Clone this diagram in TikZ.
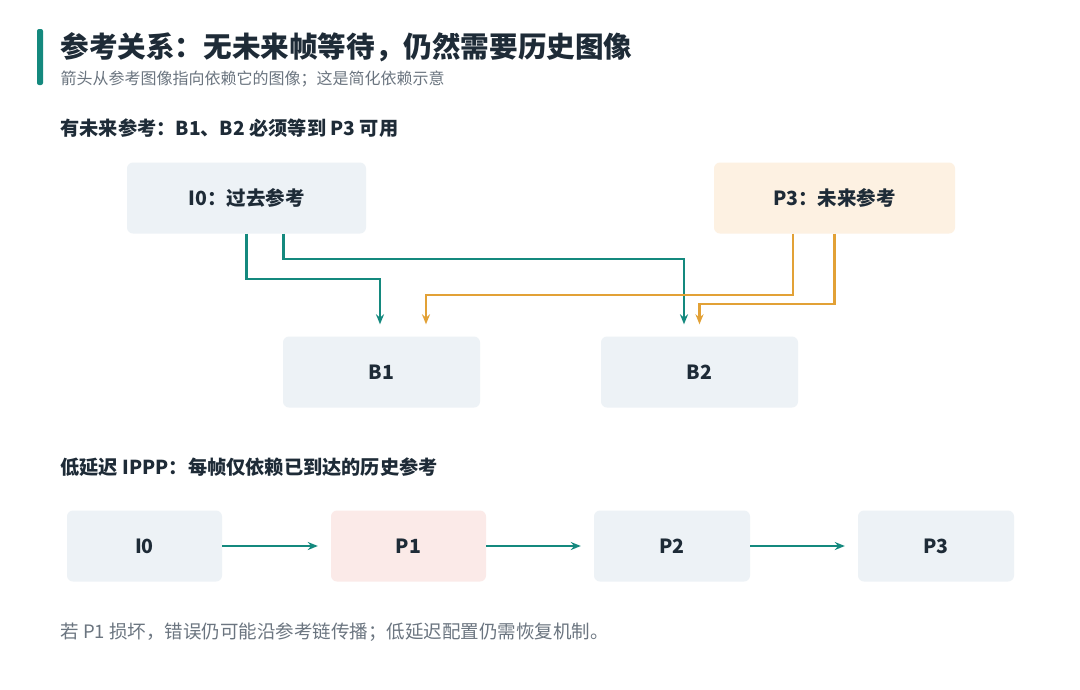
\documentclass[tikz,border=0pt]{standalone}
\usepackage{fontspec}
\setmainfont{Noto Sans CJK SC}
\usetikzlibrary{positioning, arrows.meta}
\definecolor{tealc}{HTML}{14897E}
\definecolor{orangec}{HTML}{E2A136}
\definecolor{ink}{HTML}{1E2B37}
\definecolor{greyc}{HTML}{6B7580}
\definecolor{boxc}{HTML}{EDF2F6}
\definecolor{futc}{HTML}{FDF1E2}
\definecolor{badc}{HTML}{FBEAE8}
\tikzset{
  frame/.style={rounded corners=6pt, minimum height=71pt, inner sep=0pt, text=ink, font=\fontsize{19.5}{23}\selectfont\bfseries},
  pastlink/.style={tealc, line width=2.4pt, -{Stealth[length=10pt,width=8pt]}, shorten >=12pt},
  futlink/.style={orangec, line width=2.4pt, -{Stealth[length=10pt,width=8pt]}, shorten >=12pt},
  chain/.style={tealc, line width=2.4pt, -{Stealth[length=10pt,width=8pt]}, shorten >=13pt}
}
\begin{document}
\begin{tikzpicture}[x=1pt, y=-1pt]
    \useasboundingbox[fill=white] (0,0) rectangle (1080,689);
    % Header
    \fill[tealc, rounded corners=2pt] (37,29) rectangle (43,85);
    \node[anchor=west, text=ink, font=\fontsize{28.6}{34}\selectfont\bfseries] (title) at (57,47) {参考关系：无未来帧等待，仍然需要历史图像};
    \node[anchor=west, text=greyc, font=\fontsize{16}{19}\selectfont] (sub) at (57,79) {箭头从参考图像指向依赖它的图像；这是简化依赖示意};
    % Future references
    \node[anchor=west, text=ink, font=\fontsize{19.2}{23}\selectfont\bfseries] (head1) at (57,128) {有未来参考：B1、B2 必须等到 P3 可用};
    \node[frame, fill=boxc, minimum width=239pt] (i0) at (246.5,198) {I0：过去参考};
    \node[frame, fill=futc, minimum width=241pt] (p3f) at (834.5,198) {P3：未来参考};
    \node[frame, fill=boxc, minimum width=197pt] (b1) at (381.5,372) {B1};
    \node[frame, fill=boxc, minimum width=197pt] (b2) at (699.5,372) {B2};
    \draw[pastlink] (i0.south) -- ++(0,45) -| ([xshift=-1.5]b1.north);
    \draw[pastlink] ([xshift=37]i0.south) -- ++(0,25) -| ([xshift=-15.5]b2.north);
    \draw[futlink] ([xshift=-41.5]p3f.south) -- ++(0,61) -| ([xshift=44.5]b1.north);
    \draw[futlink] (p3f.south) -- ++(0,70) -| (b2.north);
    % Low delay
    \node[anchor=west, text=ink, font=\fontsize{19.2}{23}\selectfont\bfseries] (head2) at (57,467) {低延迟 IPPP：每帧仅依赖已到达的历史参考};
    \node[frame, fill=boxc, minimum width=155pt] (l0) at (144.5,546) {I0};
    \node[frame, fill=badc, minimum width=155pt] (l1) at (408.5,546) {P1};
    \node[frame, fill=boxc, minimum width=156pt] (l2) at (672,546) {P2};
    \node[frame, fill=boxc, minimum width=156pt] (l3) at (936,546) {P3};
    \draw[chain] (l0) -- (l1);
    \draw[chain] (l1) -- (l2);
    \draw[chain] (l2) -- (l3);
    \node[anchor=west, text=greyc, font=\fontsize{18.5}{22}\selectfont] (note) at (57,632) {若 P1 损坏，错误仍可能沿参考链传播；低延迟配置仍需恢复机制。};
\end{tikzpicture}
\end{document}
